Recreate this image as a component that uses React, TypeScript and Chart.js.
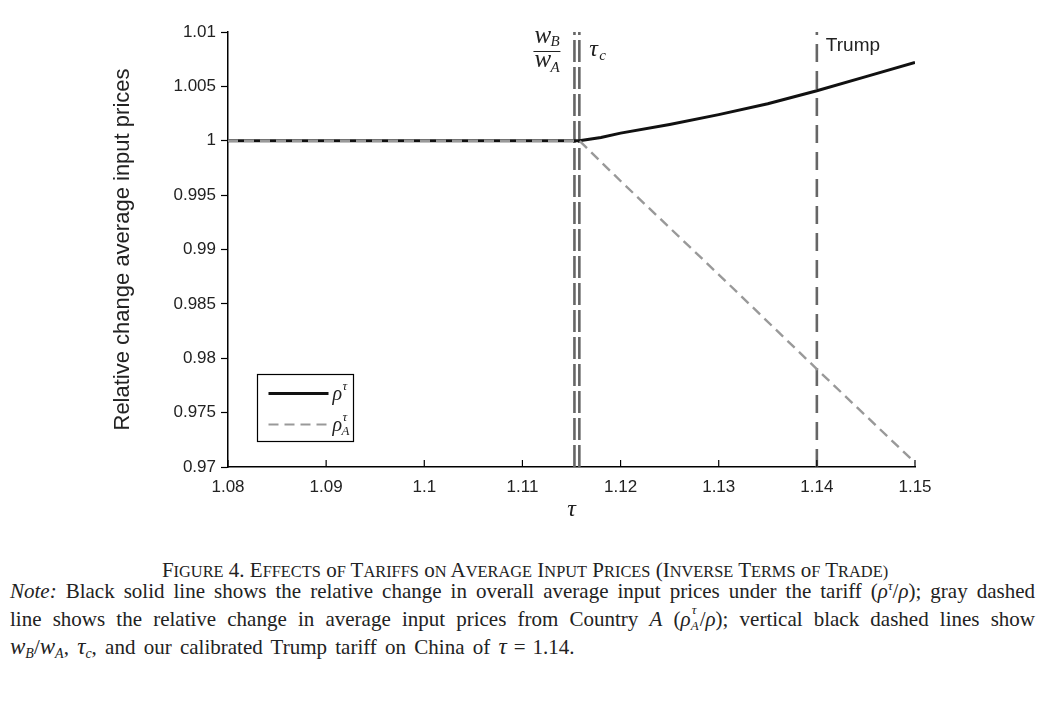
import { useEffect, useRef } from 'react'
import { Chart, registerables, Plugin } from 'chart.js'

Chart.register(...registerables)

// tariff grid and overall average input price ratio (rho^tau / rho)
const tauOverall = [1.08, 1.09, 1.1, 1.11, 1.1158, 1.118, 1.12, 1.125, 1.13, 1.135, 1.14, 1.145, 1.15]
const rhoOverall = [1, 1, 1, 1, 1, 1.0003, 1.0007, 1.0015, 1.0024, 1.0034, 1.0046, 1.0059, 1.0072]

// average input price ratio from country A (rho_A^tau / rho)
const tauCountryA = [1.08, 1.1158, 1.12, 1.13, 1.14, 1.15]
const rhoCountryA = [1, 1, 0.9963, 0.9877, 0.979, 0.9704]

// vertical reference lines: wB/wA, tau_c, Trump tariff
const refNames = ['wB/wA', 'tau_c', 'Trump']
const refTaus = [1.1153, 1.1158, 1.14]

const xMin = 1.08
const xMax = 1.15
const yMin = 0.97
const yMax = 1.01

const caption = 'Figure 4. Effects of Tariffs on Average Input Prices (Inverse Terms of Trade)'

const SERIF = '"Liberation Serif", "DejaVu Serif", serif'
const SANS = '"Liberation Sans", Arial, sans-serif'

const fmt = (digits: number) => (v: number | string) => String(Number(Number(v).toFixed(digits)))

const overlay: Plugin = {
  id: 'overlay',
  afterDraw(chart) {
    const { ctx, chartArea } = chart
    const x = chart.scales.x
    const top = chartArea.top
    ctx.save()

    // x ticks point inward
    ctx.strokeStyle = '#000'
    ctx.lineWidth = 1.2
    x.ticks.forEach(t => {
      const px = x.getPixelForValue(t.value)
      ctx.beginPath()
      ctx.moveTo(px, chartArea.bottom)
      ctx.lineTo(px, chartArea.bottom - 7)
      ctx.stroke()
    })

    ctx.fillStyle = '#222'
    ctx.textBaseline = 'alphabetic'

    // wB / wA fraction, left of first line
    const xw = x.getPixelForValue(refTaus[0])
    const fx = xw - 41
    ctx.font = `italic 25px ${SERIF}`
    ctx.fillText('w', fx + 1, top + 11)
    ctx.fillText('w', fx + 1, top + 35)
    ctx.font = `italic 15px ${SERIF}`
    ctx.fillText('B', fx + 17, top + 14)
    ctx.fillText('A', fx + 17, top + 40)
    ctx.strokeStyle = '#222'
    ctx.lineWidth = 1
    ctx.beginPath()
    ctx.moveTo(fx, top + 19.5)
    ctx.lineTo(fx + 27, top + 19.5)
    ctx.stroke()

    // tau_c
    const xt = x.getPixelForValue(refTaus[1])
    ctx.font = `italic 24px ${SERIF}`
    ctx.fillText('τ', xt + 10, top + 24)
    ctx.font = `italic 15px ${SERIF}`
    ctx.fillText('c', xt + 20, top + 28)

    // Trump
    const xtr = x.getPixelForValue(refTaus[2])
    ctx.font = `19px ${SANS}`
    ctx.fillText('Trump', xtr + 9, top + 19)

    // legend box
    const lx = chartArea.left + 29.5
    const ly = chartArea.bottom - 92.5
    ctx.fillStyle = '#fff'
    ctx.fillRect(lx, ly, 96, 67)
    ctx.strokeStyle = '#000'
    ctx.lineWidth = 1.2
    ctx.strokeRect(lx, ly, 96, 67)

    ctx.lineWidth = 3
    ctx.strokeStyle = '#111'
    ctx.beginPath()
    ctx.moveTo(lx + 11, ly + 19)
    ctx.lineTo(lx + 71, ly + 19)
    ctx.stroke()

    ctx.lineWidth = 2.2
    ctx.strokeStyle = '#999'
    ctx.setLineDash([10, 6])
    ctx.beginPath()
    ctx.moveTo(lx + 11, ly + 50)
    ctx.lineTo(lx + 71, ly + 50)
    ctx.stroke()
    ctx.setLineDash([])

    ctx.fillStyle = '#222'
    ctx.font = `italic 20px ${SERIF}`
    ctx.fillText('ρ', lx + 75, ly + 25)
    ctx.fillText('ρ', lx + 75, ly + 56)
    ctx.font = `italic 13px ${SERIF}`
    ctx.fillText('τ', lx + 85, ly + 15)
    ctx.fillText('τ', lx + 85, ly + 46)
    ctx.fillText('A', lx + 84, ly + 60)

    ctx.restore()
  },
}

function SmallCaps({ text }: { text: string }) {
  return (
    <>
      {text.split(' ').map((w, i) => {
        const lead = w.match(/^[^A-Za-z]*[A-Za-z]?/)?.[0] ?? ''
        const rest = w.slice(lead.length)
        return (
          <span key={i}>
            {i > 0 ? ' ' : ''}
            {lead}
            <span style={{ fontSize: '0.78em' }}>{rest.toUpperCase()}</span>
          </span>
        )
      })}
    </>
  )
}

const supStyle = { fontSize: 13, lineHeight: 0, verticalAlign: 'baseline', position: 'relative' as const, top: -8 }
const subStyle = { fontSize: 14, lineHeight: 0, verticalAlign: 'baseline', position: 'relative' as const, top: 4 }

export default function App() {
  const canvasRef = useRef<HTMLCanvasElement>(null)
  const chartRef = useRef<Chart | null>(null)

  useEffect(() => {
    if (!canvasRef.current) return
    if (chartRef.current) chartRef.current.destroy()

    const refSets = refTaus.map((t, i) => ({
      label: refNames[i],
      data: [
        { x: t, y: yMin },
        { x: t, y: yMax },
      ],
      showLine: true,
      borderColor: '#666',
      borderWidth: 2.6,
      borderDash: i === 2 ? [18, 9] : [22, 5],
      pointRadius: 0,
    }))

    chartRef.current = new Chart(canvasRef.current, {
      type: 'scatter',
      data: {
        datasets: [
          {
            label: 'rho_A^tau',
            data: tauCountryA.map((t, i) => ({ x: t, y: rhoCountryA[i] })),
            showLine: true,
            borderColor: '#999',
            borderWidth: 2.4,
            borderDash: [10, 6],
            pointRadius: 0,
          },
          {
            label: 'rho^tau',
            data: tauOverall.map((t, i) => ({ x: t, y: rhoOverall[i] })),
            showLine: true,
            borderColor: '#111',
            borderWidth: 3,
            tension: 0,
            pointRadius: 0,
          },
          ...refSets,
        ],
      },
      options: {
        responsive: false,
        animation: false,
        layout: { padding: { left: 110, right: 135, top: 32, bottom: 0 } },
        plugins: { legend: { display: false }, tooltip: { enabled: false } },
        scales: {
          x: {
            type: 'linear',
            min: xMin,
            max: xMax,
            ticks: {
              stepSize: 0.01,
              callback: fmt(2),
              font: { family: SANS, size: 17 },
              color: '#222',
              padding: 10,
              maxRotation: 0,
              autoSkip: false,
            },
            grid: { display: false, drawTicks: false },
            border: { color: '#000', width: 1.5 },
            title: {
              display: true,
              text: 'τ',
              font: { family: SERIF, size: 24, style: 'italic' },
              color: '#222',
              padding: { top: 0, bottom: 16 },
            },
            afterFit: s => {
              s.height = 73
            },
          },
          y: {
            min: yMin,
            max: yMax,
            ticks: {
              stepSize: 0.005,
              callback: fmt(3),
              font: { family: SANS, size: 17 },
              color: '#222',
              padding: 5,
            },
            grid: { drawOnChartArea: false, tickLength: 7, color: '#000', tickWidth: 1.2 },
            border: { color: '#000', width: 1.5 },
            title: {
              display: true,
              text: 'Relative change average input prices',
              font: { family: SANS, size: 22 },
              color: '#222',
              padding: 0,
            },
            afterFit: s => {
              s.width = 118
            },
          },
        },
      },
      plugins: [overlay],
    })

    return () => {
      if (chartRef.current) {
        chartRef.current.destroy()
        chartRef.current = null
      }
    }
  }, [])

  return (
    <div style={{ position: 'absolute', left: 0, top: 0, width: 1050, height: 706, background: '#fff', color: '#222', fontFamily: SERIF }}>
      <canvas ref={canvasRef} width={1050} height={540} style={{ display: 'block', width: 1050, height: 540 }} />
      <div style={{ position: 'absolute', top: 557, left: 0, width: 1050, textAlign: 'center', fontSize: 21, lineHeight: '26px' }}>
        <SmallCaps text={caption} />
      </div>
      <div style={{ position: 'absolute', top: 578, left: 10, width: 1025, fontSize: 21, lineHeight: '27.5px' }}>
        <div style={{ textAlign: 'justify', textAlignLast: 'justify', whiteSpace: 'nowrap' }}>
          <i>Note:</i> Black solid line shows the relative change in overall average input prices under the tariff (<i>ρ</i>
          <sup style={supStyle}><i>τ</i></sup>/<i>ρ</i>); gray dashed
        </div>
        <div style={{ textAlign: 'justify', textAlignLast: 'justify', whiteSpace: 'nowrap' }}>
          line shows the relative change in average input prices from Country <i>A</i> (<i>ρ</i>
          <span style={{ display: 'inline-block', position: 'relative', width: 9, height: 10 }}>
            <span style={{ ...supStyle, position: 'absolute', left: 1, top: -6 }}><i>τ</i></span>
            <span style={{ ...subStyle, fontSize: 13, position: 'absolute', left: 0, top: 10 }}><i>A</i></span>
          </span>
          /<i>ρ</i>); vertical black dashed lines show
        </div>
        <div style={{ wordSpacing: 3, whiteSpace: 'nowrap' }}>
          <i style={{ fontSize: 23 }}>w</i>
          <sub style={subStyle}><i>B</i></sub>/<i style={{ fontSize: 23 }}>w</i>
          <sub style={subStyle}><i>A</i></sub>, <i style={{ fontSize: 23 }}>τ</i>
          <sub style={subStyle}><i>c</i></sub>, and our calibrated Trump tariff on China of <i style={{ fontSize: 23 }}>τ</i>
          <span style={{ margin: '0 7px' }}>=</span>1.14.
        </div>
      </div>
    </div>
  )
}
